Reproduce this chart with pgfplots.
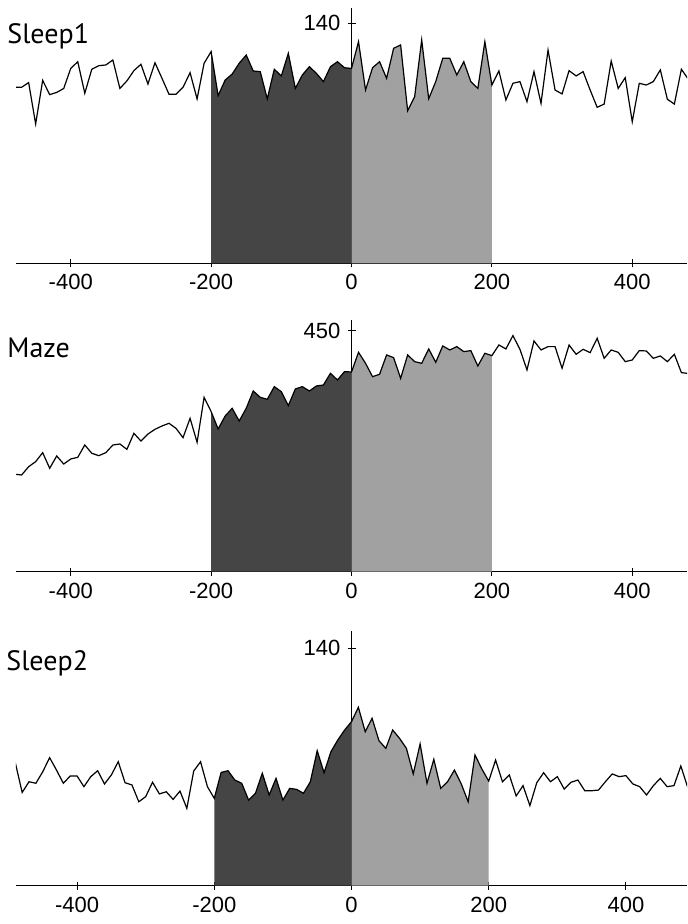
\documentclass[border=0pt]{standalone}
\usepackage{pgfplots}
\pgfplotsset{compat=1.18}
\usepackage{pgfplotstable}
\usepackage{fontspec}
\setmainfont{Liberation Sans}
\newfontfamily\titlefont{PT Sans}
\definecolor{darkfill}{gray}{0.27}
\definecolor{lightfill}{gray}{0.63}

\pgfplotstableread{
x y
-480 102.7
-470 102.7
-460 105.4
-450 81.3
-440 106.7
-430 98.4
-420 99.7
-410 102.0
-400 113.7
-390 117.6
-380 99.2
-370 113.2
-360 115.3
-350 115.7
-340 118.6
-330 102.0
-320 106.4
-310 112.4
-300 116.1
-290 104.6
-280 117.0
-270 107.9
-260 98.6
-250 98.6
-240 102.7
-230 111.2
-220 95.9
-210 116.7
-200 123.5
-190 97.8
-180 106.9
-170 110.4
-160 116.7
-150 121.5
-140 112.2
-130 111.8
-120 95.9
-110 113.2
-100 109.3
-90 122.5
-80 102.0
-70 109.9
-60 114.7
-50 110.8
-40 106.0
-30 114.7
-20 117.6
-10 114.1
0 113.7
10 129.3
20 101.1
30 114.1
40 117.6
50 107.9
60 125.4
70 127.4
80 89.0
90 97.2
100 130.3
110 96.0
120 106.0
130 119.6
140 119.6
150 109.9
160 117.6
170 106.0
180 102.0
190 129.3
200 104.0
210 112.2
220 95.3
230 105.0
240 106.0
250 94.3
260 111.8
270 93.3
280 124.4
290 101.1
300 98.8
310 112.4
320 109.3
330 111.8
340 101.1
350 91.0
360 92.9
370 118.0
380 102.0
390 108.3
400 82.6
410 105.0
420 104.0
430 106.0
440 112.8
450 95.7
460 92.9
470 113.2
480 107.3
}\sleepone

\pgfplotstableread{
x y
-480 182.0
-470 180.5
-460 196.0
-450 205.4
-440 222.2
-430 193.0
-420 216.0
-410 201.0
-400 210.4
-390 213.5
-380 236.5
-370 221.0
-360 216.6
-350 222.2
-340 236.5
-330 238.4
-320 228.4
-310 258.3
-300 244.0
-290 257.0
-280 265.8
-270 272.0
-260 277.0
-250 267.6
-240 250.2
-230 286.3
-220 241.5
-210 325.5
-200 298.8
-190 266.4
-180 290.7
-170 305.0
-160 281.3
-150 305.0
-140 337.3
-130 325.5
-120 321.8
-110 345.4
-100 336.1
-90 310.0
-80 341.1
-70 345.4
-60 337.3
-50 346.7
-40 348.5
-30 370.3
-20 357.9
-10 373.4
0 372.8
10 409.5
20 389.0
30 364.0
40 368.5
50 404.6
60 399.6
70 361.0
80 404.6
90 392.1
100 389.0
110 415.8
120 390.9
130 421.4
140 413.9
150 420.1
160 410.8
170 412.7
180 384.0
190 407.7
200 403.3
210 423.2
220 415.8
230 440.7
240 415.1
250 376.6
260 430.7
270 413.9
280 420.1
290 420.1
300 379.7
310 423.2
320 405.8
330 415.1
340 408.9
350 435.7
360 398.3
370 413.9
380 409.5
390 392.1
400 395.2
410 412.7
420 412.0
430 398.3
440 402.7
450 392.1
460 405.8
470 371.6
480 370.0
}\maze

\pgfplotstableread{
x y
-490 72.5
-480 55.0
-470 61.3
-460 60.4
-450 67.2
-440 75.5
-430 68.2
-420 60.4
-410 64.7
-400 64.7
-390 58.4
-380 64.3
-370 67.8
-360 60.0
-350 65.3
-340 73.1
-330 60.7
-320 59.4
-310 49.5
-300 52.5
-290 61.0
-280 54.1
-270 55.4
-260 50.9
-250 55.8
-240 45.6
-230 67.6
-220 73.1
-210 58.4
-200 51.5
-190 66.8
-180 67.8
-170 62.3
-160 60.4
-150 50.5
-140 54.5
-130 66.3
-120 53.5
-110 63.3
-100 50.5
-90 57.4
-80 56.8
-70 54.5
-60 61.3
-50 79.6
-40 66.6
-30 79.0
-20 85.9
-10 91.8
0 96.7
10 105.2
20 90.8
30 98.7
40 85.5
50 81.0
60 91.8
70 86.9
80 81.0
90 65.9
100 83.6
110 60.4
120 74.5
130 57.4
140 61.3
150 68.2
160 60.0
170 49.5
180 77.1
190 68.8
200 61.7
210 74.1
220 61.3
230 65.3
240 52.9
250 59.0
260 47.2
270 60.7
280 66.6
290 61.3
300 64.3
310 57.0
320 61.0
330 62.3
340 56.0
350 56.0
360 56.4
370 61.3
380 65.9
390 64.3
400 64.9
410 60.0
420 58.4
430 53.5
440 59.0
450 63.3
460 58.4
470 59.0
480 70.6
490 58.0
}\sleeptwo

\pgfplotsset{
  panel/.style={
    scale only axis,
    width=335.5pt,
    axis x line*=bottom,
    axis y line*=center,
    xtick={-400,-200,0,200,400},
    hide obscured x ticks=false,
    hide obscured y ticks=false,
    tick align=center,
    major tick length=4pt,
    tick style={black, line width=0.5pt},
    axis line style={black, line width=0.5pt},
    tick label style={font=\fontsize{11}{13}\selectfont},
    /pgf/number format/assume math mode=true,
    ymin=0,
    anchor=origin,
  },
  curve/.style={black, line width=0.6pt, mark=none},
}

\begin{document}
\begin{tikzpicture}
\path (0,0) rectangle (343.5pt,-462pt);

\begin{axis}[panel, at={(8pt,-131.65pt)}, anchor=south west,
  height=127.7pt, xmin=-478, xmax=478, ymax=149, ytick={140}]
  \addplot[draw=none, fill=darkfill, restrict x to domain=-200:0] table {\sleepone} \closedcycle;
  \addplot[draw=none, fill=lightfill, restrict x to domain=0:200] table {\sleepone} \closedcycle;
  \addplot[curve] table {\sleepone};
\end{axis}

\begin{axis}[panel, at={(8pt,-285.85pt)}, anchor=south west,
  height=125.9pt, xmin=-478, xmax=478, ymax=470, ytick={450}]
  \addplot[draw=none, fill=darkfill, restrict x to domain=-200:0] table {\maze} \closedcycle;
  \addplot[draw=none, fill=lightfill, restrict x to domain=0:200] table {\maze} \closedcycle;
  \addplot[curve] table {\maze};
\end{axis}

\begin{axis}[panel, at={(8pt,-442.85pt)}, anchor=south west,
  height=127.2pt, xmin=-489, xmax=489, ymax=150, ytick={140}]
  \addplot[draw=none, fill=darkfill, restrict x to domain=-200:0] table {\sleeptwo} \closedcycle;
  \addplot[draw=none, fill=lightfill, restrict x to domain=0:200] table {\sleeptwo} \closedcycle;
  \addplot[curve] table {\sleeptwo};
\end{axis}

\node[anchor=base west, inner sep=0pt, font=\titlefont\fontsize{14}{16}\selectfont] at (3.5pt,-21.7pt) {Sleep1};
\node[anchor=base west, inner sep=0pt, font=\titlefont\fontsize{14}{16}\selectfont] at (3.5pt,-178.8pt) {Maze};
\node[anchor=base west, inner sep=0pt, font=\titlefont\fontsize{14}{16}\selectfont] at (3pt,-335pt) {Sleep2};
\end{tikzpicture}
\end{document}
